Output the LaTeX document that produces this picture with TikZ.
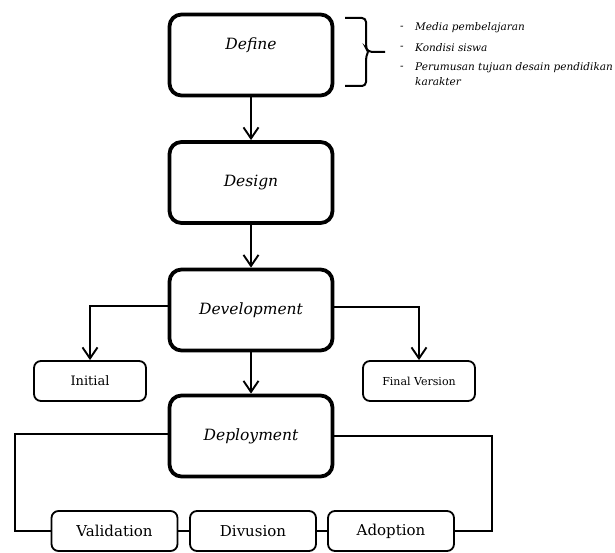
\documentclass[tikz,border=0pt]{standalone}
\usepackage{fontspec}
\setmainfont{DejaVu Serif}
\usetikzlibrary{arrows.meta}
\tikzset{
  bigbox/.style={draw, line width=3.8pt, rounded corners=12pt, minimum width=163pt, minimum height=81pt, inner sep=0pt},
  smallbox/.style={draw, line width=1.8pt, rounded corners=7pt, minimum width=112pt, minimum height=40pt, inner sep=0pt},
  rowbox/.style={draw, line width=1.8pt, rounded corners=7pt, minimum width=126pt, minimum height=40pt, inner sep=0pt},
  conn/.style={line width=1.9pt},
  arr/.style={line width=1.9pt, -{Straight Barb[length=11pt,width=15pt,line width=1.9pt]}},
  bigtxt/.style={font=\fontsize{15.5pt}{18pt}\selectfont\itshape},
  bul/.style={font=\fontsize{10.5pt}{12pt}\selectfont\itshape, anchor=west, inner sep=0pt}
}
\begin{document}
\begin{tikzpicture}[x=1pt,y=-1pt]
\useasboundingbox (0,0) rectangle (615,553);
% main boxes
\node[bigbox, label={[bigtxt, yshift=10pt]center:Define}] (define) at (251,55) {};
\node[bigbox, bigtxt] (design) at (251,182.5) {Design};
\node[bigbox, bigtxt] (development) at (251,310) {Development};
\node[bigbox, bigtxt] (deployment) at (251,436) {Deployment};
% side boxes
\node[smallbox, font=\fontsize{13pt}{15pt}\selectfont] (initial) at (90,381) {Initial};
\node[smallbox, font=\fontsize{11pt}{13pt}\selectfont] (final) at (419,381) {Final Version};
% bottom row
\node[rowbox, font=\fontsize{15pt}{17pt}\selectfont] (validation) at (114.5,531) {Validation};
\node[rowbox, font=\fontsize{15pt}{17pt}\selectfont] (divusion) at (253,531) {Divusion};
\node[rowbox, font=\fontsize{15pt}{17pt}\selectfont] (adoption) at (391,531) {Adoption};
% arrows
\draw[arr] (define.south) -- (design.north);
\draw[arr] (design.south) -- (development.north);
\draw[arr] (development.south) -- (deployment.north);
\draw[arr] ([yshift=4pt]development.west) -| (initial.north);
\draw[arr] ([yshift=3pt]development.east) -| (final.north);
% deployment loop
\coordinate (lc) at (15,531);
\coordinate (rc) at (492,531);
\draw[conn] ([yshift=2pt]deployment.west) -| (lc) -- (validation.west);
\draw[conn] (deployment.east) -| (rc) -- (adoption.east);
\draw[conn] (validation.east) -- (divusion.west);
\draw[conn] (divusion.east) -- (adoption.west);
% brace
\draw[line width=2pt, rounded corners=4pt] (345,18) -- (366,18) -- (366,48) -- (368,52) -- (385,52);
\draw[line width=2pt, rounded corners=4pt] (345,86) -- (366,86) -- (366,56) -- (368,52);
% bullet list
\node[bul] (d1) at (400,28) {-};
\node[bul] (t1) at (415,28) {Media pembelajaran};
\node[bul] (d2) at (400,48) {-};
\node[bul] (t2) at (415,48) {Kondisi siswa};
\node[bul] (d3) at (400,68) {-};
\node[bul] (t3) at (415,68) {Perumusan tujuan desain pendidikan};
\node[bul] (t4) at (415,82) {karakter};
\end{tikzpicture}
\end{document}
